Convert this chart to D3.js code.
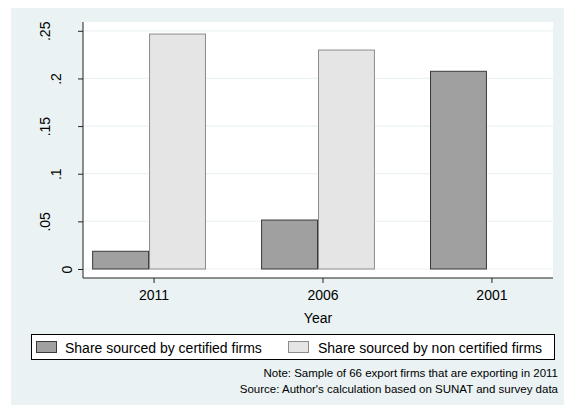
<!DOCTYPE html>
<html>
<head>
<meta charset="utf-8">
<script src="https://cdn.jsdelivr.net/npm/d3@7"></script>
<style>
  html, body { margin: 0; padding: 0; background: #ffffff; }
  svg { display: block; font-family: "Liberation Sans", Arial, sans-serif; }
</style>
</head>
<body>
<svg id="chart" width="564" height="405"></svg>
<script>
// ---- data ----
const years = ["2011", "2006", "2001"];
const seriesNames = ["Share sourced by certified firms", "Share sourced by non certified firms"];
const certified = [0.0186, 0.0514, 0.2075];
const nonCertified = [0.2466, 0.2298, 0];
const yTicks = [0, 0.05, 0.1, 0.15, 0.2, 0.25];
const yTickLabels = ["0", ".05", ".1", ".15", ".2", ".25"];
const xTitle = "Year";
const notes = ["Note: Sample of 66 export firms that are exporting in 2011",
               "Source: Author's calculation based on SUNAT and survey data"];

// ---- styles ----
const bgColor = "#eaf2f3";
const gridColor = "#eaf2f3";
const fills = ["#a0a0a0", "#e5e5e5"];
const strokes = ["#3a3a3a", "#8c8c8c"];

const svg = d3.select("#chart");

// outer background
svg.append("rect").attr("x", 11).attr("y", 8).attr("width", 553).attr("height", 397).attr("fill", bgColor);

// plot region
const plot = { left: 83, right: 553, top: 22, bottom: 278 };
svg.append("rect").attr("x", plot.left).attr("y", plot.top)
  .attr("width", plot.right - plot.left).attr("height", plot.bottom - plot.top).attr("fill", "#ffffff");

const y = d3.scaleLinear().domain([0, 0.25]).range([269, 30.8]);
const x = d3.scaleBand().domain(years).range([plot.left, plot.right]).paddingInner(0.326).paddingOuter(0.054);
const xs = d3.scaleBand().domain(seriesNames).range([0, x.bandwidth()]).padding(0);

// gridlines
svg.append("g").selectAll("line").data(yTicks).join("line")
  .attr("x1", plot.left).attr("x2", plot.right)
  .attr("y1", d => y(d)).attr("y2", d => y(d))
  .attr("stroke", gridColor).attr("stroke-width", 1.2);

// bars
const rows = years.map((yr, i) => ({ year: yr, values: [certified[i], nonCertified[i]] }));
const groups = svg.append("g").selectAll("g").data(rows).join("g")
  .attr("transform", d => `translate(${x(d.year)},0)`);
groups.selectAll("rect").data(d => d.values.map((v, k) => ({ k, v }))).join("rect")
  .attr("x", d => xs(seriesNames[d.k]) + 0.5)
  .attr("width", xs.bandwidth() - 1)
  .attr("y", d => y(d.v))
  .attr("height", d => y(0) - y(d.v))
  .attr("fill", d => fills[d.k])
  .attr("stroke", d => strokes[d.k])
  .attr("stroke-width", 1);

// y axis
const yAxis = d3.axisLeft(y).tickValues(yTicks).tickSize(5).tickFormat((d, i) => yTickLabels[i]);
const gy = svg.append("g").attr("transform", `translate(${plot.left},0)`).call(yAxis);
gy.select(".domain").attr("d", `M0,${plot.top}V${plot.bottom}`).attr("stroke", "#222");
gy.selectAll(".tick line").attr("stroke", "#222");
gy.selectAll(".tick text").remove();
gy.selectAll(".tick").append("text")
  .attr("transform", (d, i) => `translate(${-11 * yTickLabels[i].length},0) rotate(-90)`)
  .attr("text-anchor", "middle")
  .attr("fill", "#000")
  .attr("font-size", 14)
  .text((d, i) => yTickLabels[i]);

// x axis
const xAxis = d3.axisBottom(x).tickSize(5).tickSizeOuter(0);
const gx = svg.append("g").attr("transform", `translate(0,${plot.bottom})`).call(xAxis);
gx.select(".domain").attr("d", `M${plot.left},0H${plot.right}`).attr("stroke", "#222");
gx.selectAll(".tick").attr("transform", d => `translate(${x(d) + x.bandwidth() / 2 + 5},0)`);
gx.selectAll(".tick line").attr("stroke", "#222");
gx.selectAll(".tick text").attr("font-size", 14).attr("fill", "#000").attr("dy", null).attr("y", 22)
  .attr("font-family", "Liberation Sans, Arial, sans-serif");

// x title
svg.append("text").attr("x", (plot.left + plot.right) / 2).attr("y", 323)
  .attr("text-anchor", "middle").attr("font-size", 14).text(xTitle);

// legend
const lg = svg.append("g");
lg.append("rect").attr("x", 31.5).attr("y", 334.5).attr("width", 523).attr("height", 25)
  .attr("fill", "#ffffff").attr("stroke", "#000").attr("stroke-width", 1);
const legendItems = [{ sx: 36, tx: 65 }, { sx: 288, tx: 318 }];
seriesNames.forEach((name, k) => {
  lg.append("rect").attr("x", legendItems[k].sx + 0.5).attr("y", 341.5).attr("width", 20).attr("height", 11)
    .attr("fill", fills[k]).attr("stroke", strokes[k]).attr("stroke-width", 1);
  lg.append("text").attr("x", legendItems[k].tx).attr("y", 353).attr("font-size", 14).text(name);
});

// notes
svg.append("g").selectAll("text").data(notes).join("text")
  .attr("x", 558).attr("y", (d, i) => 377 + i * 16)
  .attr("text-anchor", "end").attr("font-size", 11.5).text(d => d);
</script>
</body>
</html>
